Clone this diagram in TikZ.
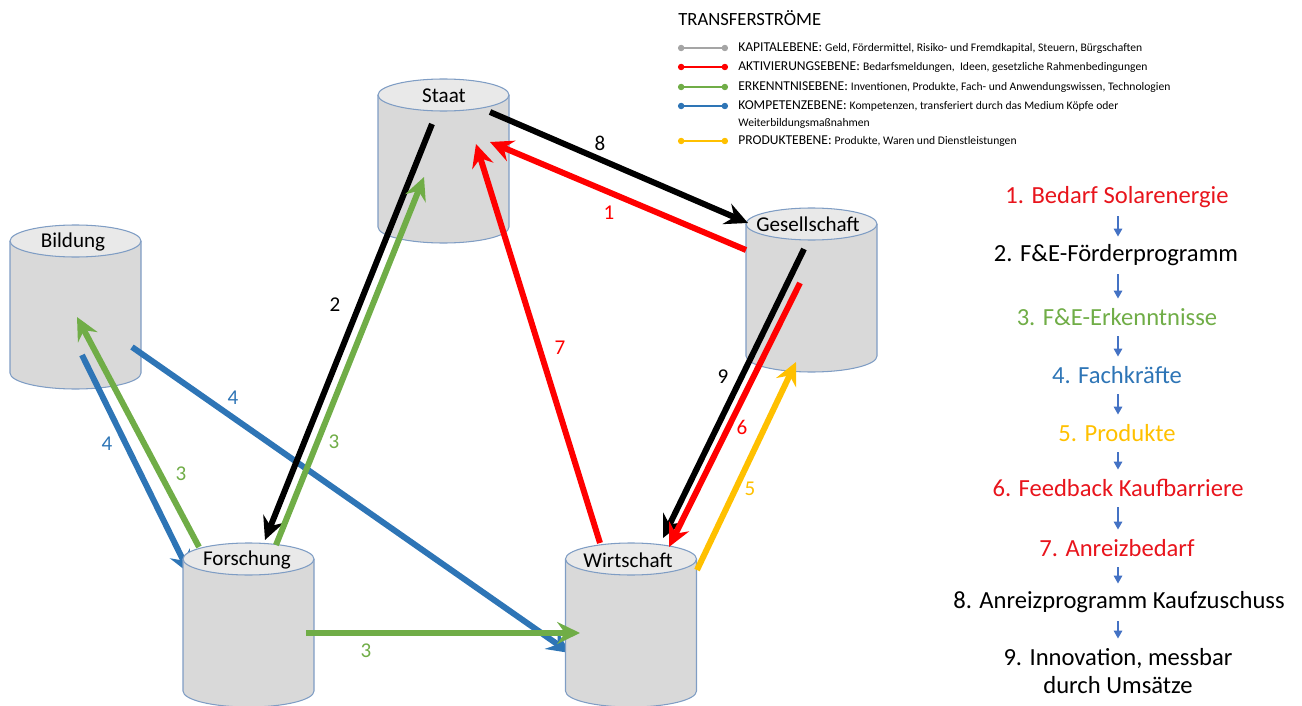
\documentclass[tikz,border=0pt]{standalone}
\usepackage{fontspec}
\setmainfont{Carlito}
\usetikzlibrary{arrows.meta}
\definecolor{cred}{HTML}{FF0000}
\definecolor{tred}{HTML}{E8141C}
\definecolor{cgreen}{HTML}{70AD47}
\definecolor{cblue}{HTML}{2E75B6}
\definecolor{cyellow}{HTML}{FFC000}
\definecolor{cgray}{HTML}{A5A5A5}
\definecolor{cylfill}{HTML}{D9D9D9}
\definecolor{cyltopfill}{HTML}{E9E9E9}
\definecolor{cylborder}{HTML}{7F9DC4}
\definecolor{listblue}{HTML}{4472C4}
\newcommand{\legdfont}{\fontsize{6.6}{8}\selectfont}
\tikzset{
  cylbody/.style={fill=cylfill},
  cylline/.style={draw=cylborder, line width=0.6pt},
  cyl/.pic={
    \fill[cylbody] (-65.5,0) -- (-65.5,-132) arc[start angle=180,end angle=360,x radius=65.5,y radius=16] -- (65.5,0) -- cycle;
    \draw[cylline] (-65.5,0) -- (-65.5,-132) arc[start angle=180,end angle=360,x radius=65.5,y radius=16] -- (65.5,0);
    \filldraw[cylline, fill=cyltopfill] (0,0) ellipse[x radius=65.5,y radius=16];
  },
  cyllabel/.style={font=\fontsize{12}{14}\selectfont, inner sep=0pt},
  flow/.style={line width=3.4pt, -{Stealth[length=13pt,width=12.5pt,inset=4.5pt]}},
  num/.style={font=\fontsize{12}{14}\selectfont, inner sep=0pt},
  legline/.style={line width=1.1pt, {Circle[length=3.6pt]}-{Circle[length=3.6pt]}},
  legtxt/.style={anchor=west, inner sep=0pt, font=\fontsize{7.7}{9}\selectfont},
  listitem/.style={font=\fontsize{14}{17}\selectfont, inner sep=0pt, align=center},
  listarr/.style={draw=listblue, line width=0.9pt, -{Triangle[length=4.5pt,width=4.8pt]}, shorten <=11pt, shorten >=10.5pt}
}
\begin{document}
\begin{tikzpicture}[x=0.02cm,y=0.02cm]
\useasboundingbox (0,0) rectangle (1302,-706);

% ---------- Legend ----------
\node[anchor=west, inner sep=0pt, font=\fontsize{10.6}{12}\selectfont] (legtitle) at (678,-18) {TRANSFERSTRÖME};
\coordinate (lg1a) at (678,-48);  \coordinate (lg1b) at (728,-48);
\coordinate (lg2a) at (678,-67);  \coordinate (lg2b) at (728,-67);
\coordinate (lg3a) at (678,-87);  \coordinate (lg3b) at (728,-87);
\coordinate (lg4a) at (678,-106); \coordinate (lg4b) at (728,-106);
\coordinate (lg5a) at (678,-141); \coordinate (lg5b) at (728,-141);
\draw[legline, cgray]   (lg1a) -- (lg1b);
\draw[legline, cred]    (lg2a) -- (lg2b);
\draw[legline, cgreen]  (lg3a) -- (lg3b);
\draw[legline, cblue]   (lg4a) -- (lg4b);
\draw[legline, cyellow] (lg5a) -- (lg5b);
\node[legtxt] (leg1) at (738,-48) {KAPITALEBENE: {\legdfont Geld, Fördermittel, Risiko- und Fremdkapital, Steuern, Bürgschaften}};
\node[legtxt] (leg2) at (738,-67) {AKTIVIERUNGSEBENE: {\legdfont Bedarfsmeldungen, \ Ideen, gesetzliche Rahmenbedingungen}};
\node[legtxt] (leg3) at (738,-87) {ERKENNTNISEBENE: {\legdfont Inventionen, Produkte, Fach- und Anwendungswissen, Technologien}};
\node[legtxt] (leg4) at (738,-106) {KOMPETENZEBENE: {\legdfont Kompetenzen, transferiert durch das Medium Köpfe oder}};
\node[legtxt] (leg4b) at (738,-123) {\legdfont Weiterbildungsmaßnahmen};
\node[legtxt] (leg5) at (738,-141) {PRODUKTEBENE: {\legdfont Produkte, Waren und Dienstleistungen}};

% ---------- Cylinders ----------
\pic at (75.5,-241) {cyl};
\node[cyllabel] (bildung) at (73,-242) {Bildung};
\pic at (443.5,-95) {cyl};
\node[cyllabel] (staat) at (444,-96) {Staat};
\pic at (811.5,-224) {cyl};
\node[cyllabel] (gesell) at (808,-224) {Gesellschaft};

% arrows partially hidden behind Forschung / Wirtschaft
\coordinate (a5s) at (82,-355);   \coordinate (a5e) at (190,-574);
\coordinate (a6s) at (132,-347);  \coordinate (a6e) at (570,-653);
\draw[flow, cblue] (a5s) -- (a5e);
\draw[flow, cblue] (a6s) -- (a6e);

\pic at (248.5,-559) {cyl};
\node[cyllabel] (forsch) at (247,-560) {Forschung};
\pic at (631,-559) {cyl};
\node[cyllabel] (wirt) at (628,-560) {Wirtschaft};

% ---------- Flow arrows ----------
\coordinate (a1s) at (746,-250);  \coordinate (a1e) at (490,-142);
\coordinate (a2s) at (432,-124);  \coordinate (a2e) at (265,-540);
\coordinate (a3s) at (276,-545);  \coordinate (a3e) at (424,-177);
\coordinate (a4s) at (199,-547);  \coordinate (a4e) at (77,-317);
\coordinate (a7s) at (306,-633);  \coordinate (a7e) at (580,-633);
\coordinate (a8s) at (600,-543);  \coordinate (a8e) at (476,-144);
\coordinate (a9s) at (490,-112);  \coordinate (a9e) at (748,-223);
\coordinate (a10s) at (804,-249); \coordinate (a10e) at (663,-538);
\coordinate (a11s) at (800,-283); \coordinate (a11e) at (669,-547);
\coordinate (a12s) at (697,-570); \coordinate (a12e) at (796,-362);

\draw[flow, cred]    (a1s) -- (a1e);
\draw[flow, black]   (a2s) -- (a2e);
\draw[flow, cgreen]  (a3s) -- (a3e);
\draw[flow, cgreen]  (a4s) -- (a4e);
\draw[flow, cgreen]  (a7s) -- (a7e);
\draw[flow, cred]    (a8s) -- (a8e);
\draw[flow, black]   (a9s) -- (a9e);
\draw[flow, black]   (a10s) -- (a10e);
\draw[flow, cred]    (a11s) -- (a11e);
\draw[flow, cyellow] (a12s) -- (a12e);

% ---------- Flow labels ----------
\node[num, text=cred]    (n1) at (609,-213) {1};
\node[num, text=black]   (n2) at (335,-305) {2};
\node[num, text=cgreen]  (n3a) at (334,-442) {3};
\node[num, text=cgreen]  (n3b) at (181,-474) {3};
\node[num, text=cgreen]  (n3c) at (366,-651) {3};
\node[num, text=cblue]   (n4a) at (107,-444) {4};
\node[num, text=cblue]   (n4b) at (233,-398) {4};
\node[num, text=cyellow] (n5) at (750,-489) {5};
\node[num, text=cred]    (n6) at (742,-427) {6};
\node[num, text=cred]    (n7) at (560,-348) {7};
\node[num, text=black]   (n8) at (600,-143) {8};
\node[num, text=black]   (n9) at (723,-377) {9};

% ---------- Sequence list ----------
\node[listitem, text=tred]    (l1) at (1117,-197) {1. Bedarf Solarenergie};
\node[listitem, text=black]   (l2) at (1116,-255) {2. F\&E-Förderprogramm};
\node[listitem, text=cgreen]  (l3) at (1117,-317) {3. F\&E-Erkenntnisse};
\node[listitem, text=cblue]   (l4) at (1117,-375) {4. Fachkräfte};
\node[listitem, text=cyellow] (l5) at (1117,-433) {5. Produkte};
\node[listitem, text=tred]    (l6) at (1118,-488) {6. Feedback Kaufbarriere};
\node[listitem, text=tred]    (l7) at (1117,-548) {7. Anreizbedarf};
\node[listitem, text=black]   (l8) at (1119,-602) {8. Anreizprogramm Kaufzuschuss};
\node[listitem, text=black]   (l9) at (1118,-671) {9. Innovation, messbar\\[-1pt]durch Umsätze};
\coordinate (l9top) at (1118,-657);
\draw[listarr] (1118,-197 |- l1.center) -- (1118,-255 |- l2.center);
\draw[listarr] (1118,-255 |- l2.center) -- (1118,-317 |- l3.center);
\draw[listarr] (1118,-317 |- l3.center) -- (1118,-375 |- l4.center);
\draw[listarr] (1118,-375 |- l4.center) -- (1118,-433 |- l5.center);
\draw[listarr] (1118,-433 |- l5.center) -- (1118,-488 |- l6.center);
\draw[listarr] (1118,-488 |- l6.center) -- (1118,-548 |- l7.center);
\draw[listarr] (1118,-548 |- l7.center) -- (1118,-602 |- l8.center);
\draw[listarr] (1118,-602 |- l8.center) -- (l9top);
\end{tikzpicture}
\end{document}
